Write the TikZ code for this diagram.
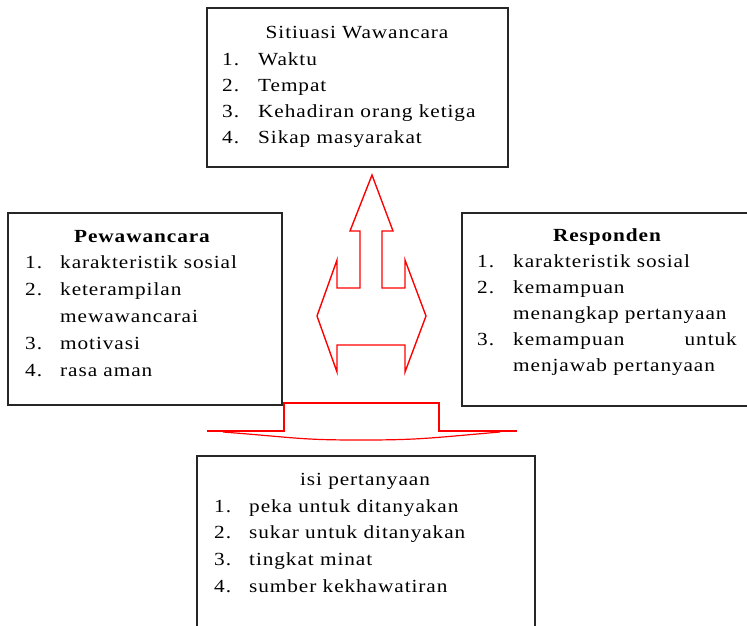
\documentclass[tikz,border=0pt]{standalone}
\usepackage{fontspec}
\setmainfont{Liberation Serif}[FakeStretch=1.15, LetterSpace=5]
\begin{document}
\begin{tikzpicture}[x=1pt, y=-1pt,
  box/.style={draw=black!85, line width=1.8pt, inner sep=0pt},
  txt/.style={font=\fontsize{18.5}{21}\selectfont, inner sep=0pt, anchor=base west},
  ttl/.style={font=\fontsize{18.5}{21}\selectfont, inner sep=0pt, anchor=base},
  btl/.style={font=\fontsize{18.5}{21}\selectfont\bfseries, inner sep=0pt, anchor=base},
  redline/.style={draw=red, line width=1.4pt, line join=miter}]
\useasboundingbox (0,0) rectangle (747,625);
% boxes
\node[box, minimum width=301pt, minimum height=159pt] (top) at (357.5,87.5) {};
\node[box, minimum width=274pt, minimum height=192pt] (left) at (145,309) {};
\node[box, minimum width=288pt, minimum height=193pt] (right) at (606,309.5) {};
\node[box, minimum width=338pt, minimum height=194pt] (bottom) at (366,553) {};
% top box text
\node[ttl] (t0) at (357,38) {Sitiuasi Wawancara};
\node[txt] (t1n) at (222,65) {1.};
\node[txt] (t1) at (258,65) {Waktu};
\node[txt] (t2n) at (222,91) {2.};
\node[txt] (t2) at (258,91) {Tempat};
\node[txt] (t3n) at (222,117) {3.};
\node[txt] (t3) at (258,117) {Kehadiran orang ketiga};
\node[txt] (t4n) at (222,143) {4.};
\node[txt] (t4) at (258,143) {Sikap masyarakat};
% left box text
\node[btl] (l0) at (142,242) {Pewawancara};
\node[txt] (l1n) at (25,268) {1.};
\node[txt] (l1) at (60,268) {karakteristik sosial};
\node[txt] (l2n) at (25,295) {2.};
\node[txt] (l2) at (60,295) {keterampilan};
\node[txt] (l2b) at (60,322) {mewawancarai};
\node[txt] (l3n) at (25,349) {3.};
\node[txt] (l3) at (60,349) {motivasi};
\node[txt] (l4n) at (25,376) {4.};
\node[txt] (l4) at (60,376) {rasa aman};
% right box text
\node[btl] (r0) at (607,241) {Responden};
\node[txt] (r1n) at (477,267) {1.};
\node[txt] (r1) at (513,267) {karakteristik sosial};
\node[txt] (r2n) at (477,293) {2.};
\node[txt] (r2) at (513,293) {kemampuan};
\node[txt] (r2b) at (513,319) {menangkap pertanyaan};
\node[txt] (r3n) at (477,345) {3.};
\node[txt] (r3) at (513,345) {kemampuan};
\node[txt, anchor=base east] (r3u) at (737,345) {untuk};
\node[txt] (r3b) at (513,371) {menjawab pertanyaan};
% bottom box text
\node[ttl] (b0) at (365,485) {isi pertanyaan};
\node[txt] (b1n) at (214,512) {1.};
\node[txt] (b1) at (249,512) {peka untuk ditanyakan};
\node[txt] (b2n) at (214,538) {2.};
\node[txt] (b2) at (249,538) {sukar untuk ditanyakan};
\node[txt] (b3n) at (214,565) {3.};
\node[txt] (b3) at (249,565) {tingkat minat};
\node[txt] (b4n) at (214,592) {4.};
\node[txt] (b4) at (249,592) {sumber kekhawatiran};
% red arrow shape
\draw[redline] (372,175) -- (393,231) -- (382,231) -- (382,288) -- (405,288) -- (405,260)
  -- (426,316) -- (405,372) -- (405,345) -- (337,345) -- (337,372) -- (317,316)
  -- (337,260) -- (337,288) -- (360,288) -- (360,231) -- (350,231) -- cycle;
% bottom red shape
\draw[redline] (207,431) -- (284,431) -- (284,403) -- (439,403) -- (439,431) -- (517,431);
\draw[redline, line width=1.2pt] (223,432) .. controls (300,438) and (300,440) .. (361,440)
  .. controls (420,440) and (430,438) .. (500,432);
\end{tikzpicture}
\end{document}
